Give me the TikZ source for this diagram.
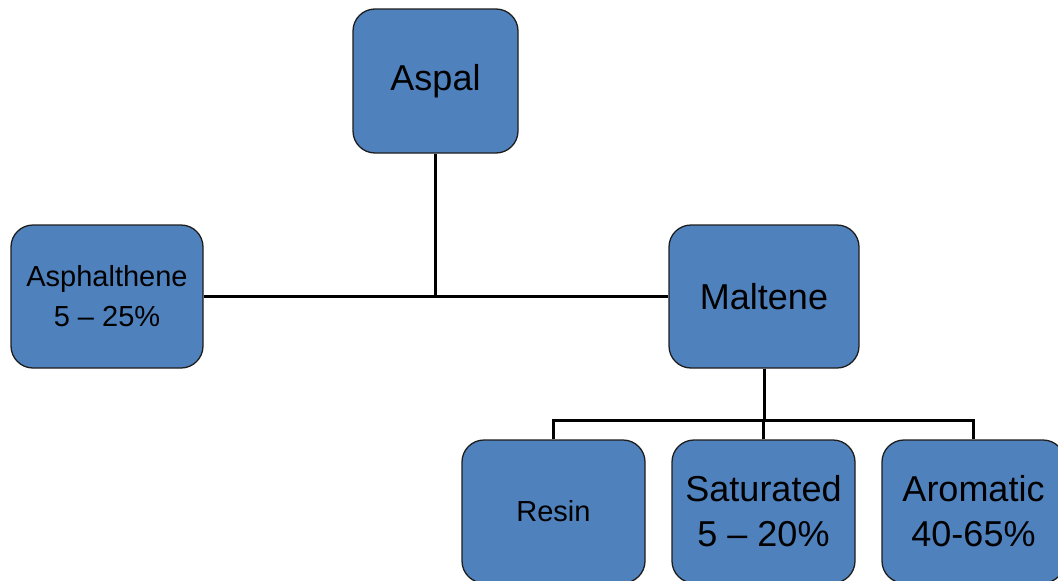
\documentclass[tikz,border=0pt]{standalone}
\usepackage{fontspec}
\setmainfont{Liberation Sans}
\definecolor{boxblue}{HTML}{4F81BD}
\definecolor{edgegray}{HTML}{1E1E1E}
\begin{document}
\begin{tikzpicture}[x=1pt,y=-1pt,
  box/.style={draw=edgegray, line width=1.3pt, fill=boxblue, rounded corners=22pt,
              inner sep=0pt, align=center, text=black},
  bigtext/.style={font=\fontsize{36}{45}\selectfont},
  smalltext/.style={font=\fontsize{29}{40}\selectfont},
  link/.style={line width=3pt, draw=black}]
\fill[white] (0,0) rectangle (1058,581);
\useasboundingbox (0,0) rectangle (1058,581);
\clip (0,0) rectangle (1058,581);
\node[box, bigtext, minimum width=165pt, minimum height=144pt] (aspal) at (435.5,81) {Aspal};
\node[box, smalltext, minimum width=192pt, minimum height=143pt] (asph) at (107,296.5) {Asphalthene\\5 – 25\%};
\node[box, bigtext, minimum width=190pt, minimum height=143pt] (malt) at (764,296.5) {Maltene};
\node[box, smalltext, minimum width=183pt, minimum height=143pt] (resin) at (553.5,511.5) {Resin};
\node[box, bigtext, minimum width=183pt, minimum height=143pt] (sat) at (763.5,511.5) {Saturated\\5 – 20\%};
\node[box, bigtext, minimum width=183pt, minimum height=143pt] (arom) at (973.5,511.5) {Aromatic\\40-65\%};
\coordinate (bus) at (0,420);
\draw[link] (asph.east) -- (malt.west);
\draw[link] (aspal.south) -- (aspal.south |- asph.east);
\draw[link] (malt.south) -- (malt.south |- bus);
\draw[link] (resin.north) -- (resin.north |- bus) -- (arom.north |- bus) -- (arom.north);
\draw[link] (sat.north) -- (sat.north |- bus);
\end{tikzpicture}
\end{document}
